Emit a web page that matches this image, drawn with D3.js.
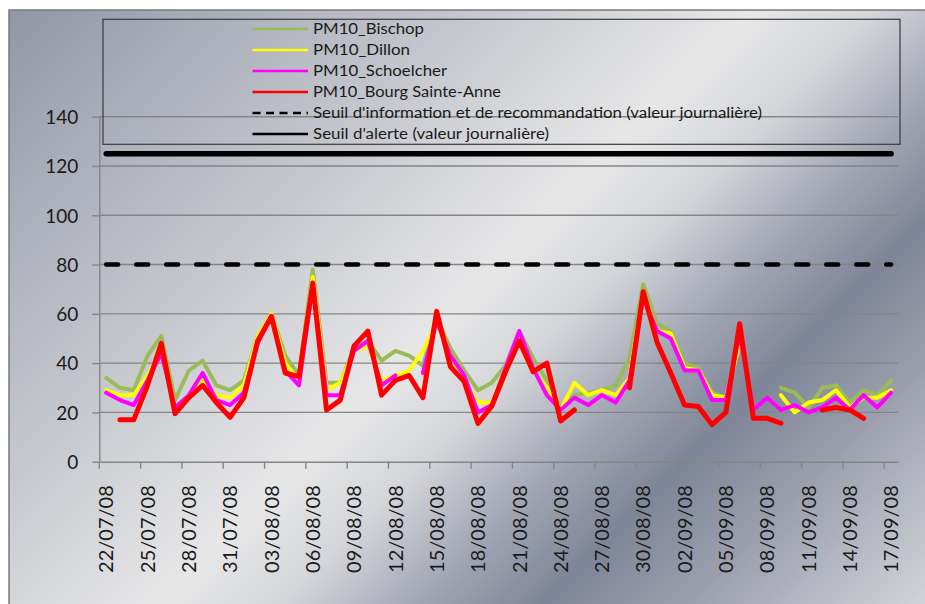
<!DOCTYPE html>
<html><head><meta charset="utf-8">
<script src="https://cdn.jsdelivr.net/npm/d3@7"></script>
<style>html,body{margin:0;padding:0;background:#fff}svg{display:block}</style>
</head><body>
<svg id="c" width="925" height="604"></svg>
<script>
// ---------- DATA ----------
const dates = [
 "22/07/08","23/07/08","24/07/08","25/07/08","26/07/08","27/07/08","28/07/08","29/07/08","30/07/08","31/07/08",
 "01/08/08","02/08/08","03/08/08","04/08/08","05/08/08","06/08/08","07/08/08","08/08/08","09/08/08","10/08/08",
 "11/08/08","12/08/08","13/08/08","14/08/08","15/08/08","16/08/08","17/08/08","18/08/08","19/08/08","20/08/08",
 "21/08/08","22/08/08","23/08/08","24/08/08","25/08/08","26/08/08","27/08/08","28/08/08","29/08/08","30/08/08",
 "31/08/08","01/09/08","02/09/08","03/09/08","04/09/08","05/09/08","06/09/08","07/09/08","08/09/08","09/09/08",
 "10/09/08","11/09/08","12/09/08","13/09/08","14/09/08","15/09/08","16/09/08","17/09/08"];
const tickLabels = ["22/07/08","25/07/08","28/07/08","31/07/08","03/08/08","06/08/08","09/08/08","12/08/08","15/08/08","18/08/08",
 "21/08/08","24/08/08","27/08/08","30/08/08","02/09/08","05/09/08","08/09/08","11/09/08","14/09/08","17/09/08"];
const yTicks = [0,20,40,60,80,100,120,140];
const bischop = [34,30,29,43,51,25,37,41,31,29, 33,51,60,43,35,78,32,32,46,49,
 41,45,43,39,58,46,37,29,32,39, 53,42,33,22,27,28,29,31,42,72,
 56,53,40,38,28,26,52,null,null,30, 28,22,30,31,24,29,27,33];
const dillon = [29,27,27,35,45,22,26,33,27,26, 31,51,60,40,33,75,29,32,45,47,
 33,35,37,45,56,43,33,24,24,38, 52,37,30,21,32,27,29,27,34,68,
 53,52,38,37,27,26,48,null,null,27, 20,24,25,29,22,26,26,29];
const schoelcher = [28,25,23,33,44,22,27,36,25,23, 28,48,59,37,31,72,27,27,45,49,
 31,35,null,36,57,43,35,20,23,38, 53,38,27,21,26,23,27,24,33,67,
 53,50,37,37,25,25,52,21,26,21, 23,20,22,26,21,27,22,28];
const bourg = [null,17,17,31,48,19.5,26,31,24,18, 26,49,59,36,34.5,72.5,21,25,47,53,
 27,33,35,26,61,38.5,32.5,15.5,22.5,36.5, 49,36.5,40,16.5,21,null,null,null,30,69,
 48.5,36,23,22.4,15,20,56,17.6,17.6,15.6, null,null,21,22,21,17.6,null,null];
const seuilInfo = 80;
const seuilAlerte = 125;
const seriesNames = ["PM10_Bischop","PM10_Dillon","PM10_Schoelcher","PM10_Bourg Sainte-Anne"];
const seuilNames = ["Seuil d'information et de recommandation (valeur journalière)","Seuil d'alerte (valeur journalière)"];

// ---------- LAYOUT ----------
const W = 925, H = 604;
const L = 99.3, R = 898, T = 116.7, B = 461.7;
const svg = d3.select("#c");
const defs = svg.append("defs");
const grad = defs.append("linearGradient").attr("id","bg")
  .attr("gradientUnits","userSpaceOnUse").attr("x1",0).attr("y1",0).attr("x2",765).attr("y2",765);
[[0,"#8f94a4"],[0.14,"#a9adb8"],[0.32,"#c6c8ce"],[0.5,"#e7e7e8"],[0.58,"#d3d5d9"],
 [0.67,"#a1a5b2"],[0.75,"#7f8598"],[0.84,"#9a9eac"],[1,"#d3d4d9"]].forEach(s =>
  grad.append("stop").attr("offset",s[0]).attr("stop-color",s[1]));
svg.append("rect").attr("x",9).attr("y",10).attr("width",W).attr("height",H)
  .attr("fill","url(#bg)").attr("stroke","#7a7a7a").attr("stroke-width",1.5);

const x = d3.scaleBand().domain(dates).range([L,R]).padding(0);
const cx = d => x(d) + x.bandwidth()/2;
const y = d3.scaleLinear().domain([0,140]).range([B,T]);
const gridCol = "#858585";
const font = "Lato, 'Open Sans', 'Liberation Sans', sans-serif";

// gridlines
svg.append("g").selectAll("line").data(yTicks.filter(v=>v>0)).join("line")
  .attr("x1",L).attr("x2",R).attr("y1",d=>y(d)).attr("y2",d=>y(d))
  .attr("stroke",gridCol).attr("stroke-width",1.4);

// y axis
const ya = svg.append("g").attr("transform",`translate(${L},0)`)
  .call(d3.axisLeft(y).tickValues(yTicks).tickSize(7).tickSizeOuter(0).tickPadding(14));
ya.select(".domain").attr("stroke",gridCol).attr("stroke-width",1.4);
ya.selectAll(".tick line").attr("stroke",gridCol).attr("stroke-width",1.4);
ya.selectAll(".tick text").attr("font-family",font).attr("font-size",19).attr("fill","#1a1a1a").attr("dy","0.36em");

// x axis
const xa = svg.append("g").attr("transform",`translate(0,${B})`)
  .call(d3.axisBottom(x).tickValues(tickLabels).tickSize(0).tickSizeOuter(0));
xa.select(".domain").attr("stroke",gridCol).attr("stroke-width",1.4);
xa.selectAll(".tick text").attr("font-family",font).attr("font-size",20).attr("fill","#1a1a1a")
  .attr("transform","rotate(-90)").attr("text-anchor","end").attr("x",-23.5).attr("y",0).attr("dy","0.36em");
svg.append("g").selectAll("line").data(tickLabels).join("line")
  .attr("x1",d=>x(d)).attr("x2",d=>x(d)).attr("y1",B).attr("y2",B+7)
  .attr("stroke",gridCol).attr("stroke-width",1.4);

// thresholds
const flat = v => d3.line().x(d=>cx(d)).y(()=>y(v));
svg.append("path").attr("d",flat(seuilInfo)(dates)).attr("fill","none")
  .attr("stroke","#000").attr("stroke-width",4.5).attr("stroke-dasharray","12,18").attr("stroke-linecap","round");
svg.append("path").attr("d",flat(seuilAlerte)(dates)).attr("fill","none")
  .attr("stroke","#000").attr("stroke-width",5.5).attr("stroke-linecap","round");

// series
const series = [
  {vals:bischop, col:"#9bbb59", w:4},
  {vals:dillon, col:"#ffff00", w:4},
  {vals:schoelcher, col:"#ff00ff", w:4},
  {vals:bourg, col:"#ff0000", w:5}
];
const line = d3.line().defined(d=>d[1]!=null).x(d=>cx(d[0])).y(d=>y(d[1]));
series.forEach(s => {
  svg.append("path").attr("d", line(dates.map((d,i)=>[d,s.vals[i]])))
    .attr("fill","none").attr("stroke",s.col).attr("stroke-width",s.w)
    .attr("stroke-linejoin","round").attr("stroke-linecap","round");
});

// legend
const lg = svg.append("g");
lg.append("rect").attr("x",103).attr("y",19.3).attr("width",797).attr("height",125)
  .attr("fill","none").attr("stroke","#3a3a3a").attr("stroke-width",1.2);
const legItems = [
  {t:seriesNames[0], col:"#9bbb59", dash:null, w:111},
  {t:seriesNames[1], col:"#ffff00", dash:null, w:97},
  {t:seriesNames[2], col:"#ff00ff", dash:null, w:134},
  {t:seriesNames[3], col:"#ff0000", dash:null, w:188},
  {t:seuilNames[0], col:"#000", dash:"8,5.5", w:449},
  {t:seuilNames[1], col:"#000", dash:null, w:236}
];
legItems.forEach((it,i) => {
  const yy = 29 + 21*i;
  lg.append("line").attr("x1",252.5).attr("x2",308).attr("y1",yy).attr("y2",yy)
    .attr("stroke",it.col).attr("stroke-width",2.6).attr("stroke-dasharray",it.dash);
  lg.append("text").attr("x",313).attr("y",yy).attr("dy","0.35em")
    .attr("font-family",font).attr("font-size",14.5).attr("fill","#1a1a1a")
    .attr("textLength",it.w).attr("lengthAdjust","spacingAndGlyphs").text(it.t);
});
</script></body></html>
